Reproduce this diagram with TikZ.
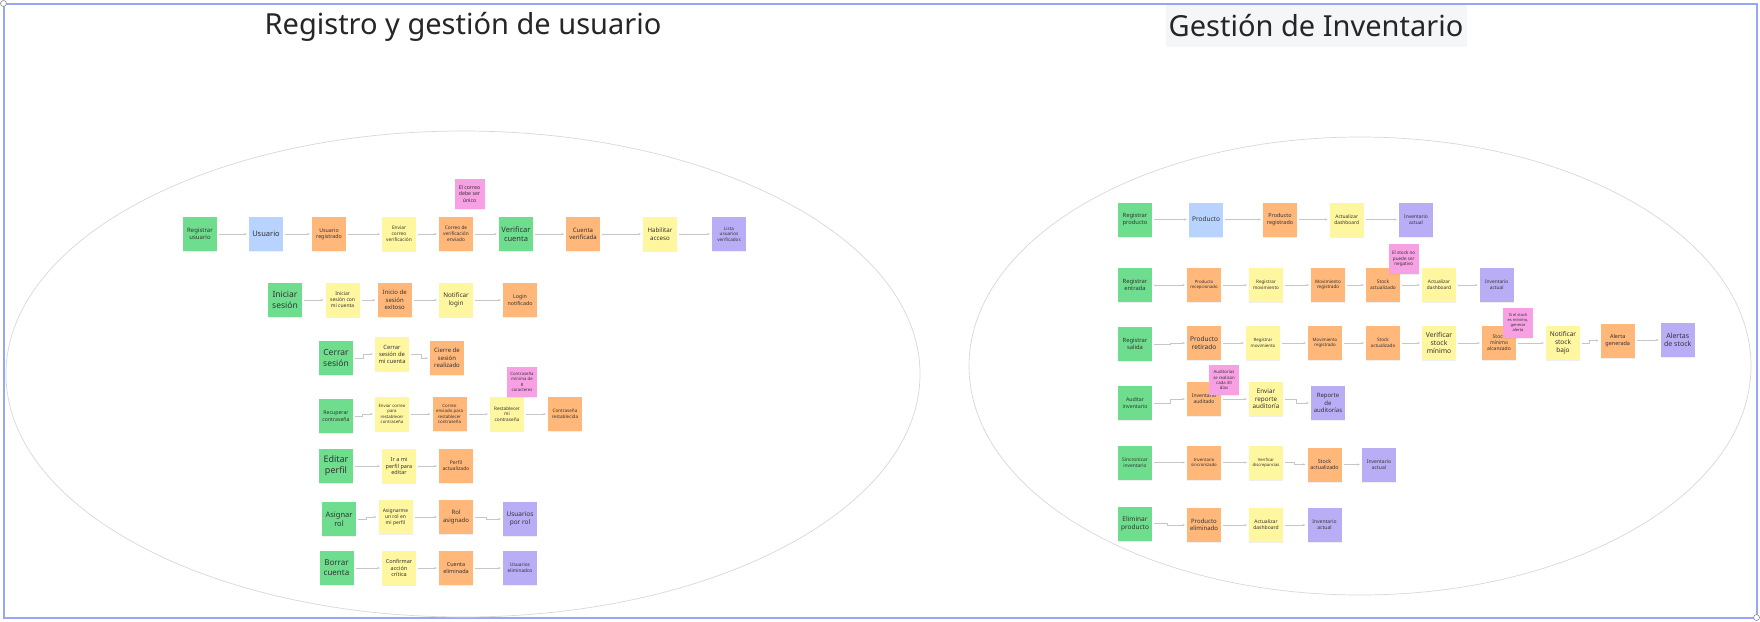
\documentclass[tikz,border=0pt]{standalone}
\usepackage{fontspec}
\setmainfont{Noto Sans}
\usetikzlibrary{arrows.meta,shadows}
\definecolor{cg}{HTML}{6EDD8E}
\definecolor{cb}{HTML}{B8D3FF}
\definecolor{co}{HTML}{FFB77A}
\definecolor{cy}{HTML}{FFF6A0}
\definecolor{cp}{HTML}{B9AEF6}
\definecolor{ck}{HTML}{F7A0E4}
\definecolor{frame}{HTML}{98A6F5}
\definecolor{ell}{HTML}{D8D8D8}
\definecolor{lnk}{HTML}{C6C6C6}
\definecolor{txt}{HTML}{333333}
\definecolor{tbg}{HTML}{F5F6F8}
\newcommand\fz[1]{\fontsize{#1}{1.22\dimexpr #1pt\relax}\selectfont}
\tikzset{
  st/.style={minimum width=34pt,minimum height=34pt,inner sep=0pt,align=center,text=txt,
    drop shadow={shadow xshift=0pt,shadow yshift=-1.2pt,opacity=.12}},
  gr/.style={st,fill=cg},
  bl/.style={st,fill=cb},
  or/.style={st,fill=co},
  ye/.style={st,fill=cy},
  pu/.style={st,fill=cp},
  pk/.style={st,fill=ck,minimum width=30pt,minimum height=30pt},
  conn/.style={draw=lnk,line width=0.7pt,shorten <=2pt,shorten >=2pt,-{Stealth[length=2.5pt,width=2.2pt]}},
  ellp/.style={draw=ell,line width=0.7pt},
  ttl/.style={font=\fontsize{29}{34}\selectfont,text=black!85,inner sep=0pt}
}
\begin{document}
\begin{tikzpicture}[x=1pt,y=-1pt]
\useasboundingbox (0,0) rectangle (1760,621);
\fill[white] (0,0) rectangle (1760,621);
\draw[frame,line width=2pt] (3.5,3.5) rectangle (1756.5,617.5);
\draw[black!45,fill=white,line width=0.6pt] (3.5,3.5) circle (3pt);
\draw[black!45,fill=white,line width=0.6pt] (1756.5,617.5) circle (3pt);
% ellipses
\draw[ellp] (463,374) ellipse [x radius=457, y radius=243];
\draw[ellp] (1360,366) ellipse [x radius=391, y radius=229];
% titles
\node[ttl] (t1) at (463,27) {Registro y gestión de usuario};
\fill[tbg] (1166,5) rectangle (1467,47);
\node[ttl] (t2) at (1316,26) {Gestión de Inventario};

% ===== Left: row 1
\node[gr,font=\fz{6}] (ru) at (200,234) {Registrar\\usuario};
\node[bl,font=\fz{7.5}] (us) at (266,234) {Usuario};
\node[or,font=\fz{5.3}] (ur) at (329,234) {Usuario\\registrado};
\node[ye,font=\fz{4.8}] (ec) at (399,234) {Enviar\\correo\\verificación};
\node[or,font=\fz{4.8}] (cv) at (456,234) {Correo de\\verificación\\enviado};
\node[pk,font=\fz{5.2}] (p1) at (469.5,194) {El correo\\debe ser\\único};
\node[gr,font=\fz{7.5}] (vc) at (516,234) {Verificar\\cuenta};
\node[or,font=\fz{6}] (cvf) at (583,234) {Cuenta\\verificada};
\node[ye,font=\fz{6.2}] (ha) at (660,234) {Habilitar\\acceso};
\node[pu,font=\fz{4.6}] (lu) at (729,234) {Lista\\usuarios\\verificados};
\draw[conn] (ru.east) -- (us.west);
\draw[conn] (us.east) -- (ur.west);
\draw[conn] (ur.east) -- (ec.west);
\draw[conn] (ec.east) -- (cv.west);
\draw[conn] (cv.east) -- (vc.west);
\draw[conn] (vc.east) -- (cvf.west);
\draw[conn] (cvf.east) -- (ha.west);
\draw[conn] (ha.east) -- (lu.west);

% Iniciar sesión
\node[gr,font=\fz{8.5}] (is) at (285,300) {Iniciar\\sesión};
\node[ye,font=\fz{5}] (ic) at (342.6,300) {Iniciar\\sesión con\\mi cuenta};
\node[or,font=\fz{6}] (ie) at (394.7,300) {Inicio de\\sesión\\exitoso};
\node[ye,font=\fz{6.3}] (nl) at (456,300) {Notificar\\login};
\node[or,font=\fz{5.3}] (ln) at (520,300) {Login\\notificado};
\draw[conn] (is.east) -- (ic.west);
\draw[conn] (ic.east) -- (ie.west);
\draw[conn] (ie.east) -- (nl.west);
\draw[conn] (nl.east) -- (ln.west);

% Cerrar sesión
\node[gr,font=\fz{8.5}] (cs) at (336,358) {Cerrar\\sesión};
\node[ye,font=\fz{5.8}] (cm) at (392,354) {Cerrar\\sesión de\\mi cuenta};
\node[or,font=\fz{6}] (cr) at (447,358) {Cierre de\\sesión\\realizado};
\draw[conn] (cs.east) -- ++(10,0) |- (cm.west);
\draw[conn] (cm.east) -- ++(12,0) |- (cr.west);

% Recuperar contraseña
\node[gr,font=\fz{5.2}] (rc) at (336,416) {Recuperar\\contraseña};
\node[ye,font=\fz{4.3}] (ecr) at (392,414) {Enviar correo\\para\\restablecer\\contraseña};
\node[or,font=\fz{4.4}] (cer) at (449.5,414) {Correo\\enviado para\\restablecer\\contraseña};
\node[ye,font=\fz{4.7}] (rmc) at (507,414) {Restablecer\\mi\\contraseña};
\node[pk,font=\fz{4.3}] (p2) at (522,382) {Contraseña\\mínima de\\8\\caracteres};
\node[or,font=\fz{4.6}] (crs) at (565,414) {Contraseña\\restablecida};
\draw[conn] (rc.east) -- ++(9,0) |- (ecr.west);
\draw[conn] (ecr.east) -- (cer.west);
\draw[conn] (cer.east) -- (rmc.west);
\draw[conn] (rmc.east) -- (crs.west);

% Editar perfil
\node[gr,font=\fz{9}] (ep) at (336,466) {Editar\\perfil};
\node[ye,font=\fz{5.5}] (ip) at (399,466) {Ir a mi\\perfil para\\editar};
\node[or,font=\fz{5}] (pa) at (456,466) {Perfil\\actualizado};
\draw[conn] (ep.east) -- (ip.west);
\draw[conn] (ip.east) -- (pa.west);

% Asignar rol
\node[gr,font=\fz{7.5}] (ar) at (339,519) {Asignar\\rol};
\node[ye,font=\fz{5}] (am) at (395.5,517) {Asignarme\\un rol en\\mi perfil};
\node[or,font=\fz{6}] (ra) at (456,517) {Rol\\asignado};
\node[pu,font=\fz{6.5}] (upr) at (520,519) {Usuarios\\por rol};
\draw[conn] (ar.east) -- ++(10,0) |- (am.west);
\draw[conn] (am.east) -- (ra.west);
\draw[conn] (ra.east) -- ++(13,0) |- (upr.west);

% Borrar cuenta
\node[gr,font=\fz{8}] (bc) at (336.5,568) {Borrar\\cuenta};
\node[ye,font=\fz{5.5}] (ca) at (399,568) {Confirmar\\acción\\crítica};
\node[or,font=\fz{5.5}] (ce) at (456,568) {Cuenta\\eliminada};
\node[pu,font=\fz{4.8}] (ue) at (520,568) {Usuarios\\eliminados};
\draw[conn] (bc.east) -- (ca.west);
\draw[conn] (ca.east) -- (ce.west);
\draw[conn] (ce.east) -- (ue.west);

% ===== Right: row 1
\node[gr,font=\fz{5.8}] (rp) at (1135,219.5) {Registrar\\producto};
\node[bl,font=\fz{6.5}] (pr) at (1206,219.5) {Producto};
\node[or,font=\fz{5.4}] (prg) at (1280,219.5) {Producto\\registrado};
\node[ye,font=\fz{4.9}] (ad1) at (1346.7,219.5) {Actualizar\\dashboard};
\node[pu,font=\fz{4.9}] (ia1) at (1416,219.5) {Inventario\\actual};
\draw[conn] (rp.east) -- (pr.west);
\draw[conn] (pr.east) -- (prg.west);
\draw[conn] (prg.east) -- (ad1.west);
\draw[conn] (ad1.east) -- (ia1.west);

% row 2
\node[gr,font=\fz{5.8}] (re) at (1135,285) {Registrar\\entrada};
\node[or,font=\fz{4.3}] (prc) at (1204,285) {Producto\\recepcionado};
\node[ye,font=\fz{4.6}] (rm2) at (1266,285) {Registrar\\movimiento};
\node[or,font=\fz{4.6}] (mr2) at (1328,285) {Movimiento\\registrado};
\node[or,font=\fz{4.8}] (sa2) at (1383,285) {Stock\\actualizado};
\node[pk,font=\fz{4.6}] (p3) at (1403.7,259) {El stock no\\puede ser\\negativo};
\node[ye,font=\fz{4.8}] (ad2) at (1439,285) {Actualizar\\dashboard};
\node[pu,font=\fz{4.8}] (ia2) at (1496.7,285) {Inventario\\actual};
\draw[conn] (re.east) -- (prc.west);
\draw[conn] (prc.east) -- (rm2.west);
\draw[conn] (rm2.east) -- (mr2.west);
\draw[conn] (mr2.east) -- (sa2.west);
\draw[conn] (sa2.east) -- (ad2.west);
\draw[conn] (ad2.east) -- (ia2.west);

% row 3
\node[gr,font=\fz{5.8}] (rs) at (1135,344) {Registrar\\salida};
\node[or,font=\fz{6.5}] (prt) at (1204,343) {Producto\\retirado};
\node[ye,font=\fz{4.4}] (rm3) at (1263,343) {Registrar\\movimiento};
\node[or,font=\fz{4.4}] (mr3) at (1325,343) {Movimiento\\registrado};
\node[or,font=\fz{4.6}] (sa3) at (1383,343) {Stock\\actualizado};
\node[ye,font=\fz{6.8}] (vsm) at (1439,343) {Verificar\\stock\\mínimo};
\node[or,font=\fz{5}] (sma) at (1499,343) {Stock\\mínimo\\alcanzado};
\node[pk,font=\fz{4}] (p4) at (1518,322.7) {Si el stock\\es mínimo,\\generar\\alerta};
\node[ye,font=\fz{6.5}] (nsb) at (1563,343) {Notificar\\stock\\bajo};
\node[or,font=\fz{5.5}] (ag) at (1617.7,340.5) {Alerta\\generada};
\node[pu,font=\fz{7}] (as) at (1677.7,340) {Alertas\\de stock};
\draw[conn] (rs.east) -- ++(18,0) |- (prt.west);
\draw[conn] (prt.east) -- (rm3.west);
\draw[conn] (rm3.east) -- (mr3.west);
\draw[conn] (mr3.east) -- (sa3.west);
\draw[conn] (sa3.east) -- (vsm.west);
\draw[conn] (vsm.east) -- (sma.west);
\draw[conn] (sma.east) -- (nsb.west);
\draw[conn] (nsb.east) -- ++(9,0) |- (ag.west);
\draw[conn] (ag.east) -- ++(13,0) |- (as.west);

% row 4
\node[gr,font=\fz{5.2}] (ai) at (1135,403) {Auditar\\inventario};
\node[or,font=\fz{5}] (iad) at (1204,399) {Inventario\\auditado};
\node[pk,font=\fz{4.3}] (p5) at (1224,380) {Auditorías\\se realizan\\cada 30\\días};
\node[ye,font=\fz{6.3}] (era) at (1266,399) {Enviar\\reporte\\auditoría};
\node[pu,font=\fz{6}] (rda) at (1328,403) {Reporte\\de\\auditorías};
\draw[conn] (ai.east) -- ++(18,0) |- (iad.west);
\draw[conn] (iad.east) -- (era.west);
\draw[conn] (era.east) -- ++(13,0) |- (rda.west);

% row 5
\node[gr,font=\fz{4.9}] (si) at (1135,462.5) {Sincronizar\\inventario};
\node[or,font=\fz{4.3}] (isn) at (1204,462.5) {Inventario\\sincronizado};
\node[ye,font=\fz{4.2}] (vd) at (1266,462.5) {Verificar\\discrepancias};
\node[or,font=\fz{5.3}] (sa5) at (1324.5,464.5) {Stock\\actualizado};
\node[pu,font=\fz{5}] (ia5) at (1379,464.5) {Inventario\\actual};
\draw[conn] (si.east) -- (isn.west);
\draw[conn] (isn.east) -- (vd.west);
\draw[conn] (vd.east) -- ++(11,0) |- (sa5.west);
\draw[conn] (sa5.east) -- (ia5.west);

% row 6
\node[gr,font=\fz{6.5}] (elp) at (1135,523.5) {Eliminar\\producto};
\node[or,font=\fz{6}] (pe) at (1204,525) {Producto\\eliminado};
\node[ye,font=\fz{5}] (ad6) at (1266,525) {Actualizar\\dashboard};
\node[pu,font=\fz{5}] (ia6) at (1324.5,525) {Inventario\\actual};
\draw[conn] (elp.east) -- ++(15,0) |- (pe.west);
\draw[conn] (pe.east) -- (ad6.west);
\draw[conn] (ad6.east) -- (ia6.west);
\end{tikzpicture}
\end{document}
